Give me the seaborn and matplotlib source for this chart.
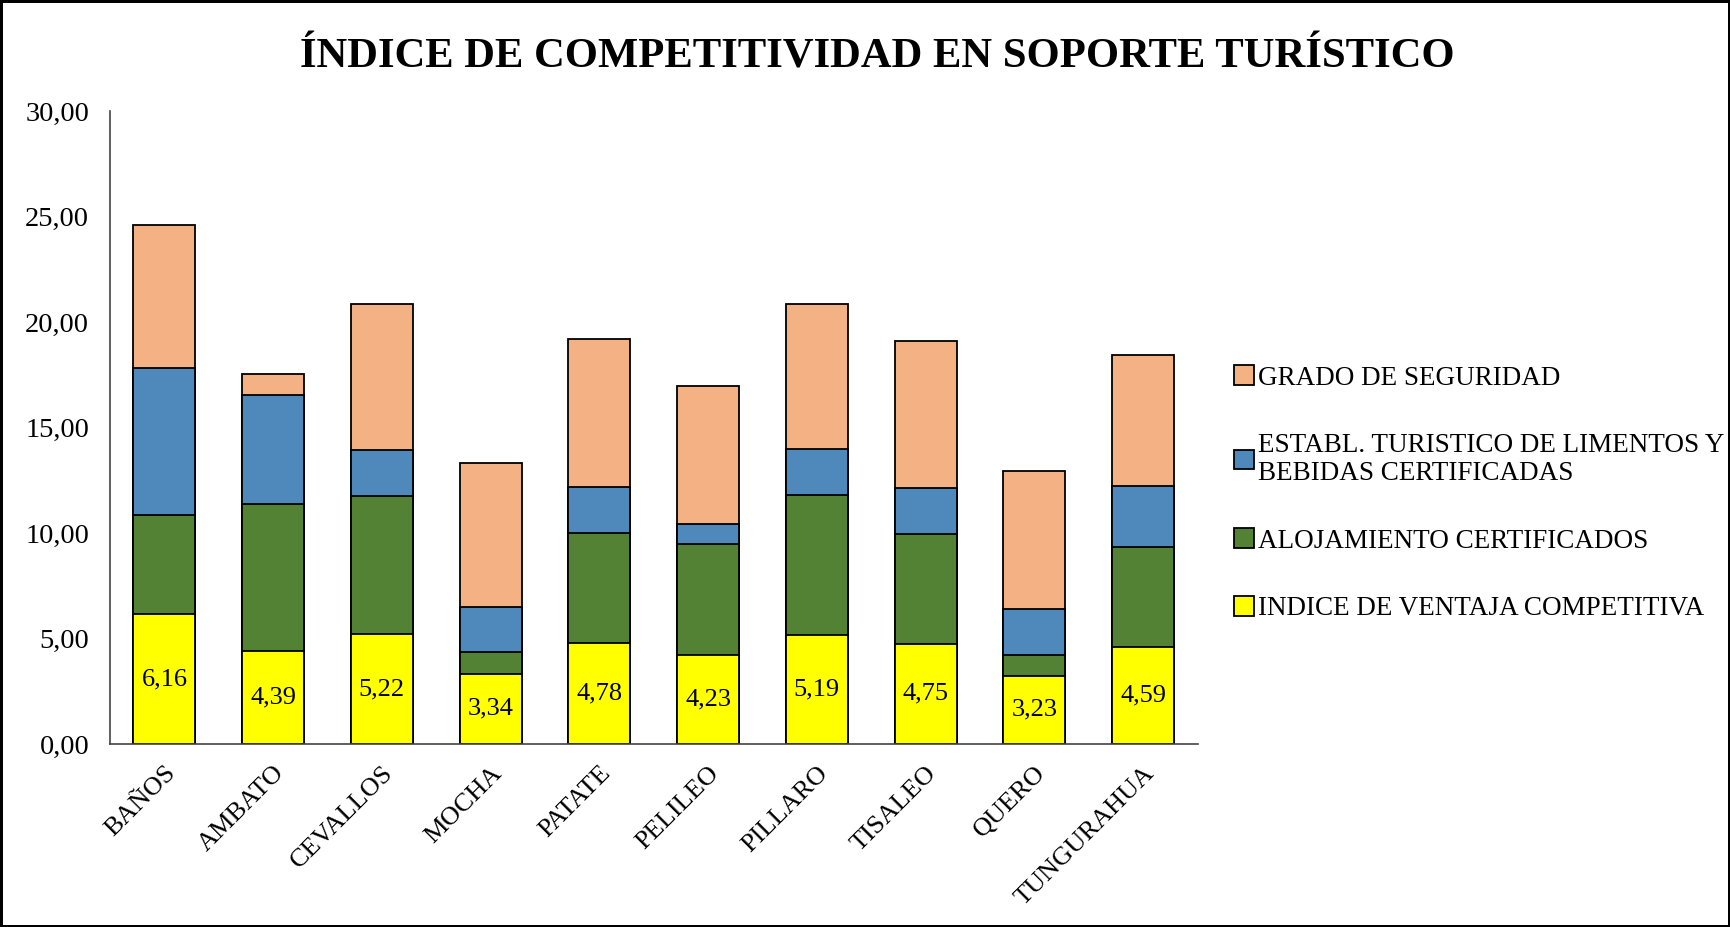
import numpy as np
import pandas as pd
import matplotlib
matplotlib.use("Agg")
import matplotlib.pyplot as plt
import seaborn as sns

# Data
cantones = ["BAÑOS", "AMBATO", "CEVALLOS", "MOCHA", "PATATE",
            "PELILEO", "PILLARO", "TISALEO", "QUERO", "TUNGURAHUA"]
ventaja = [6.16, 4.39, 5.22, 3.34, 4.78, 4.23, 5.19, 4.75, 3.23, 4.59]
alojamiento = [4.69, 6.99, 6.56, 1.00, 5.22, 5.23, 6.63, 5.21, 1.01, 4.75]
alimentos = [6.99, 5.16, 2.14, 2.16, 2.19, 0.99, 2.15, 2.18, 2.17, 2.90]
seguridad = [6.78, 1.02, 6.94, 6.84, 7.01, 6.53, 6.89, 6.96, 6.55, 6.18]

series = ["INDICE DE VENTAJA COMPETITIVA",
          "ALOJAMIENTO CERTIFICADOS",
          "ESTABL. TURISTICO DE LIMENTOS Y\nBEBIDAS CERTIFICADAS",
          "GRADO DE SEGURIDAD"]
colors = ["#FFFF00", "#548235", "#4F89BC", "#F4B183"]

df = pd.DataFrame({"canton": cantones,
                   series[0]: ventaja, series[1]: alojamiento,
                   series[2]: alimentos, series[3]: seguridad})
cum = df[series].cumsum(axis=1)

sns.set_style("white")
plt.rcParams["font.family"] = ["Liberation Serif", "DejaVu Serif"]
plt.rcParams["text.color"] = "black"
plt.rcParams["xtick.color"] = "black"
plt.rcParams["ytick.color"] = "black"

fig = plt.figure(figsize=(17.3, 9.27), dpi=100, edgecolor="black", linewidth=2.5)
ax = fig.add_axes([0.0636, 0.1974, 0.6286, 0.6826])

# draw tallest cumulative first so lower segments sit on top
for s, c in reversed(list(zip(series, colors))):
    sns.barplot(x=df["canton"], y=cum[s], color=c, saturation=1, width=0.57,
                edgecolor="black", linewidth=1.3, label=s, ax=ax)

if ax.get_legend() is not None:
    ax.get_legend().remove()

ax.bar_label(ax.containers[-1],
             labels=[f"{v:.2f}".replace(".", ",") for v in ventaja],
             label_type="center", fontsize=19, color="black")

ax.set_ylim(0, 30)
ax.set_xlim(-0.5, len(cantones) - 0.5)
ax.set_yticks(np.arange(0, 31, 5))
ax.set_yticklabels([f"{v:.2f}".replace(".", ",") for v in np.arange(0, 31, 5)], fontsize=20.5)
ax.tick_params(axis="both", length=0, colors="black")
ax.tick_params(axis="y", pad=15)
ax.tick_params(axis="x", pad=13)
plt.setp(ax.get_xticklabels(), rotation=45, ha="right", rotation_mode="anchor", fontsize=19)
ax.set_xlabel("")
ax.set_ylabel("")

sns.despine(ax=ax)
for sp in ["left", "bottom"]:
    ax.spines[sp].set_color("#444444")
    ax.spines[sp].set_linewidth(1.2)

handles, labels = ax.get_legend_handles_labels()
fig.legend(handles, labels, loc="center left", bbox_to_anchor=(0.699, 0.468),
           frameon=False, fontsize=19.5, handlelength=0.75, handleheight=0.75,
           handletextpad=0.15, labelspacing=1.55)

fig.suptitle("ÍNDICE DE COMPETITIVIDAD EN SOPORTE TURÍSTICO",
             fontsize=30.7, fontweight="bold", x=0.507, y=0.958, color="black")

fig.savefig("out.png", dpi=100)
plt.close(fig)
